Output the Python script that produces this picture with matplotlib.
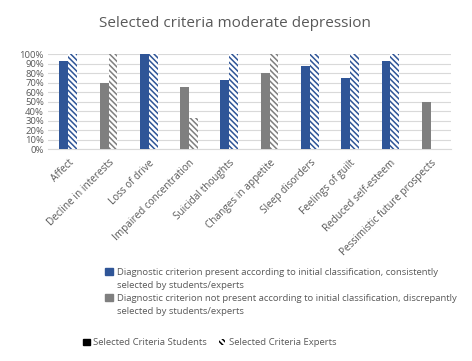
import numpy as np
import matplotlib.pyplot as plt
from matplotlib.patches import Patch

plt.rcParams['font.family'] = ['Open Sans', 'DejaVu Sans']
plt.rcParams['hatch.linewidth'] = 1.1

# --- data ---
categories = ["Affect", "Decline in interests", "Loss of drive", "Impaired concentration",
              "Suicidal thoughts", "Changes in appetite", "Sleep disorders", "Feelings of guilt",
              "Reduced self-esteem", "Pessimistic future prospects"]
students = [93, 70, 100, 65, 73, 80, 87, 75, 93, 50]
experts = [100, 100, 100, 33, 100, 100, 100, 100, 100, 0]
present = [True, False, True, False, True, False, True, True, True, False]

blue = "#2F5597"
grey = "#7F7F7F"
text_col = "#595959"
colors = [blue if p else grey for p in present]
hatch = "\\" * 6

fig = plt.figure(figsize=(4.72, 3.61), dpi=100)
ax = fig.add_axes([0.102, 0.587, 0.853, 0.263])

x = np.arange(len(categories))
w = 0.22
ax.bar(x - w / 2, students, w, color=colors, zorder=3)
for xi, v, c in zip(x, experts, colors):
    ax.bar(xi + w / 2, v, w, color="white", edgecolor=c, hatch=hatch, linewidth=0, zorder=3)

ax.set_xlim(-0.5, len(categories) - 0.5)
ax.set_ylim(0, 100)
ax.set_yticks(range(0, 101, 10))
ax.set_yticklabels([f"{t}%" for t in range(0, 101, 10)], fontsize=6.8, color=text_col)
ax.set_xticks(x)
ax.set_xticklabels(categories, rotation=45, ha="right", rotation_mode="anchor",
                   fontsize=7.2, color=text_col)
ax.tick_params(axis="y", length=0, pad=3)
ax.tick_params(axis="x", length=0, pad=6)
ax.grid(axis="y", color="#D9D9D9", linewidth=0.8, zorder=0)
for s in ax.spines.values():
    s.set_visible(False)
ax.spines["bottom"].set_visible(True)
ax.spines["bottom"].set_color("#D9D9D9")

fig.text(0.497, 0.935, "Selected criteria moderate depression", ha="center", va="center",
         fontsize=11, color=text_col)

# --- legends ---
# second line of each entry as its own row with an empty handle, so the square sits on line one
blank = Patch(facecolor="none", edgecolor="none")
h1 = [Patch(facecolor=blue, edgecolor=blue), blank,
      Patch(facecolor=grey, edgecolor=grey), blank]
l1 = ["Diagnostic criterion present according to initial classification, consistently",
      "selected by students/experts",
      "Diagnostic criterion not present according to initial classification, discrepantly",
      "selected by students/experts"]
fig.legend(h1, l1, loc="upper left", bbox_to_anchor=(0.215, 0.268), frameon=False,
           fontsize=6.8, labelcolor=text_col, handlelength=0.8, handleheight=0.8,
           handletextpad=0.4, labelspacing=0.42, borderaxespad=0)

h2 = [Patch(facecolor="black", edgecolor="black"),
      Patch(facecolor="white", edgecolor="black", hatch=hatch, linewidth=0)]
l2 = ["Selected Criteria Students", "Selected Criteria Experts"]
fig.legend(h2, l2, loc="center left", bbox_to_anchor=(0.168, 0.05), frameon=False, ncol=2,
           fontsize=6.8, labelcolor=text_col, handlelength=0.7, handleheight=0.7,
           handletextpad=0.4, columnspacing=1.2, borderaxespad=0)

plt.savefig("out.png", dpi=100)
